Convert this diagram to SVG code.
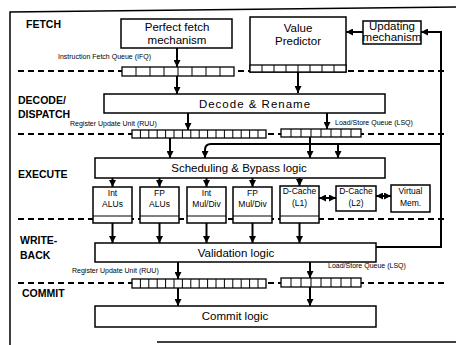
<svg xmlns="http://www.w3.org/2000/svg" width="456" height="345" viewBox="0 0 456 345">
<style>
.bx{fill:#fff;stroke:#000;stroke-width:1.5}
.q{fill:#fff;stroke:#000;stroke-width:1.3}
.qd{fill:none;stroke:#000;stroke-width:1}
.dash{fill:none;stroke:#000;stroke-width:2;stroke-dasharray:6 4}
.ln{fill:none;stroke:#000;stroke-width:2}
.ar{fill:none;stroke:#000;stroke-width:2;marker-end:url(#ah)}
.dar{fill:none;stroke:#000;stroke-width:2;marker-end:url(#ah);marker-start:url(#ah)}
.stage{font-family:"Liberation Sans",Arial,sans-serif;font-weight:bold;font-size:10.5px}
.t{font-family:"Liberation Sans",Arial,sans-serif;font-size:11.5px;text-anchor:middle}
.tu{font-family:"Liberation Sans",Arial,sans-serif;font-size:8.5px;text-anchor:middle}
.ts{font-family:"Liberation Sans",Arial,sans-serif;font-size:7px}
.frame{fill:none;stroke:#000;stroke-width:1.5}
</style>
<defs>
<marker id="ah" viewBox="0 0 8 8" refX="8" refY="4" markerWidth="7" markerHeight="7" markerUnits="userSpaceOnUse" orient="auto-start-reverse"><path d="M0,0 L8,4 L0,8 z" fill="#000"/></marker>
</defs>
<rect width="456" height="345" fill="#fff"/>
<g id="frame">
<path class="frame" d="M10,345 V12 L456,7"/>
<path class="frame" d="M157,342 H456"/>
</g>
<g id="stage-labels">
<text class="stage" x="26" y="28">FETCH</text>
<text class="stage" x="18" y="104">DECODE/</text>
<text class="stage" x="18" y="118">DISPATCH</text>
<text class="stage" x="18" y="178">EXECUTE</text>
<text class="stage" x="20" y="244">WRITE-</text>
<text class="stage" x="20" y="259">BACK</text>
<text class="stage" x="22" y="297">COMMIT</text>
</g>
<g id="separators">
<path class="dash" d="M18,71 H448"/>
<path class="dash" d="M18,134 H448"/>
<path class="dash" d="M18,219 H448"/>
<path class="dash" d="M18,283 H448"/>
</g>
<g id="connectors">
<path class="ar" d="M177,48 V67"/>
<path class="ar" d="M177,76 V94"/>
<path class="ar" d="M298,72 V93"/>
<path class="ar" d="M363,32 H346"/>
<path class="ar" d="M376,247 H441 V32 H421"/>
<path class="ar" d="M188,113 V130"/>
<path class="ar" d="M327,113 V129"/>
<path class="ar" d="M170,138 V158"/>
<path class="ar" d="M441,144 H211 Q205,144 205,150 V158"/>
<path class="ar" d="M338,144 V158"/>
<path class="ar" d="M310,137 V158"/>
<path class="ar" d="M112.5,178 V187"/>
<path class="ar" d="M159.5,178 V187"/>
<path class="ar" d="M206.5,178 V187"/>
<path class="ar" d="M252.5,178 V187"/>
<path class="ar" d="M299.5,178 V186"/>
<path class="ar" d="M112.5,223 V243"/>
<path class="ar" d="M159.5,223 V243"/>
<path class="ar" d="M206.5,223 V243"/>
<path class="ar" d="M252.5,223 V243"/>
<path class="ar" d="M299.5,223 V243"/>
<path class="dar" d="M319,198 H336"/>
<path class="dar" d="M376,196 H391"/>
<path class="ar" d="M178,262 V279"/>
<path class="ar" d="M310,262 V278"/>
<path class="ar" d="M178,288 V306"/>
<path class="ar" d="M310,287 V306"/>
</g>
<g id="perfect-fetch">
<rect class="bx" x="121" y="19" width="111" height="29"/>
<text class="t" x="177" y="31" font-size="11px">Perfect fetch</text>
<text class="t" x="177" y="44" font-size="11px">mechanism</text>
</g>
<g id="value-predictor">
<rect class="bx" x="250" y="17" width="96" height="55"/>
<text class="t" x="298" y="32">Value</text>
<text class="t" x="298" y="45">Predictor</text>
<rect class="q" x="250" y="65" width="96" height="7"/>
<path class="qd" d="M262,65v7M274,65v7M286,65v7M298,65v7M310,65v7M322,65v7M334,65v7"/>
</g>
<g id="updating-mechanism">
<rect class="bx" x="363" y="21" width="58" height="23"/>
<text class="t" x="392" y="30" font-size="9.5px">Updating</text>
<text class="t" x="392" y="41" font-size="9.5px">mechanism</text>
</g>
<g id="ifq">
<text class="ts" x="58" y="59">Instruction Fetch Queue (IFQ)</text>
<rect class="q" x="122" y="67" width="112" height="9"/>
<path class="qd" d="M136,67v9M150,67v9M164,67v9M178,67v9M192,67v9M206,67v9M220,67v9"/>
</g>
<g id="decode-rename">
<rect class="bx" x="104" y="94" width="281" height="19"/>
<text class="t" x="255" y="108" font-size="13px" letter-spacing="1">Decode &amp; Rename</text>
</g>
<g id="ruu-1">
<text class="ts" x="70" y="126">Register Update Unit (RUU)</text>
<rect class="q" x="132" y="130" width="134" height="8"/>
<path class="qd" d="M140.4,130v8M148.8,130v8M157.2,130v8M165.6,130v8M174,130v8M182.4,130v8M190.8,130v8M199.2,130v8M207.6,130v8M216,130v8M224.4,130v8M232.8,130v8M241.2,130v8M249.6,130v8M258,130v8"/>
</g>
<g id="lsq-1">
<text class="ts" x="335" y="125">Load/Store Queue (LSQ)</text>
<rect class="q" x="281" y="129" width="80" height="8"/>
<path class="qd" d="M291,129v8M301,129v8M311,129v8M321,129v8M331,129v8M341,129v8M351,129v8"/>
</g>
<g id="scheduling">
<rect class="bx" x="95" y="158" width="290" height="20"/>
<text class="t" x="239" y="172" font-size="11.5px">Scheduling &amp; Bypass logic</text>
</g>
<g id="int-alus">
<rect class="bx" x="93" y="187" width="39" height="36"/>
<path class="qd" d="M93,216H132"/>
<text class="tu" x="112.5" y="196">Int</text>
<text class="tu" x="112.5" y="207">ALUs</text>
</g>
<g id="fp-alus">
<rect class="bx" x="140" y="187" width="39" height="36"/>
<path class="qd" d="M140,216H179"/>
<text class="tu" x="159.5" y="196">FP</text>
<text class="tu" x="159.5" y="207">ALUs</text>
</g>
<g id="int-muldiv">
<rect class="bx" x="187" y="187" width="39" height="36"/>
<path class="qd" d="M187,216H226"/>
<text class="tu" x="206.5" y="196">Int</text>
<text class="tu" x="206.5" y="207">Mul/Div</text>
</g>
<g id="fp-muldiv">
<rect class="bx" x="233" y="187" width="39" height="36"/>
<path class="qd" d="M233,216H272"/>
<text class="tu" x="252.5" y="196">FP</text>
<text class="tu" x="252.5" y="207">Mul/Div</text>
</g>
<g id="dcache-l1">
<rect class="bx" x="280" y="186" width="39" height="37"/>
<path class="qd" d="M280,216H319"/>
<text class="tu" x="299.5" y="194">D-Cache</text>
<text class="tu" x="299.5" y="206">(L1)</text>
</g>
<g id="dcache-l2">
<rect class="bx" x="336" y="186" width="40" height="25"/>
<text class="tu" x="356" y="194">D-Cache</text>
<text class="tu" x="356" y="206">(L2)</text>
</g>
<g id="virtual-mem">
<rect class="bx" x="391" y="185" width="39" height="27"/>
<text class="tu" x="410.5" y="194">Virtual</text>
<text class="tu" x="410.5" y="206">Mem.</text>
</g>
<g id="validation">
<rect class="bx" x="95" y="243" width="281" height="19"/>
<text class="t" x="236" y="257">Validation logic</text>
</g>
<g id="ruu-2">
<text class="ts" x="72" y="273">Register Update Unit (RUU)</text>
<rect class="q" x="132" y="279" width="134" height="9"/>
<path class="qd" d="M140.4,279v9M148.8,279v9M157.2,279v9M165.6,279v9M174,279v9M182.4,279v9M190.8,279v9M199.2,279v9M207.6,279v9M216,279v9M224.4,279v9M232.8,279v9M241.2,279v9M249.6,279v9M258,279v9"/>
</g>
<g id="lsq-2">
<text class="ts" x="328" y="268">Load/Store Queue (LSQ)</text>
<rect class="q" x="281" y="278" width="80" height="9"/>
<path class="qd" d="M291,278v9M301,278v9M311,278v9M321,278v9M331,278v9M341,278v9M351,278v9"/>
</g>
<g id="commit">
<rect class="bx" x="95" y="306" width="281" height="21"/>
<text class="t" x="235" y="320" font-size="12px">Commit logic</text>
</g>
</svg>
